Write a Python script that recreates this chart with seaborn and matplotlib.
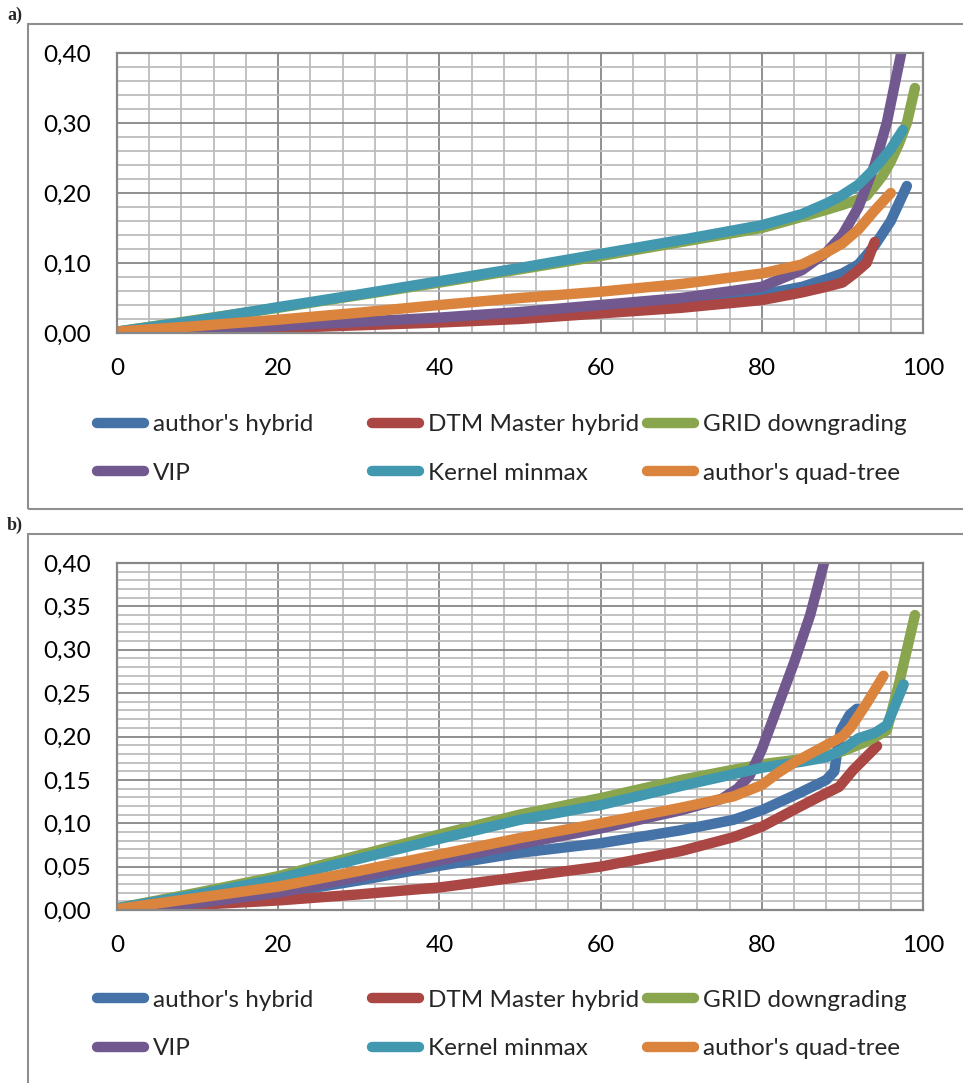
import numpy as np
import pandas as pd
import matplotlib
matplotlib.use("Agg")
import matplotlib.pyplot as plt
import seaborn as sns
from matplotlib.lines import Line2D
from matplotlib.patches import Rectangle
from matplotlib.ticker import FuncFormatter, MultipleLocator

# ---------------- data ----------------
series_names = ["author's hybrid", "DTM Master hybrid", "GRID downgrading",
                "VIP", "Kernel minmax", "author's quad-tree"]
colors = ["#4572A7", "#AA4643", "#89A54E", "#71588F", "#4198AF", "#DB843D"]

# panel a
a_hybrid_x = [0, 20, 40, 60, 70, 80, 85, 88, 90, 92, 94, 96, 98]
a_hybrid_y = [0.0, 0.008, 0.018, 0.030, 0.040, 0.055, 0.066, 0.077, 0.085, 0.098, 0.125, 0.160, 0.210]
a_dtm_x = [0, 20, 40, 50, 60, 70, 80, 85, 88, 90, 91.5, 93, 94]
a_dtm_y = [0.0, 0.007, 0.015, 0.020, 0.028, 0.036, 0.047, 0.058, 0.066, 0.072, 0.085, 0.100, 0.130]
a_grid_x = [0, 20, 40, 60, 80, 85, 88, 90, 92, 93, 94, 95, 96, 97, 98, 99]
a_grid_y = [0.002, 0.036, 0.072, 0.110, 0.150, 0.166, 0.176, 0.183, 0.191, 0.196, 0.210, 0.225, 0.245, 0.270, 0.300, 0.350]
a_vip_x = [0, 20, 40, 50, 60, 70, 80, 85, 88, 90, 92, 94, 95.5, 97.3, 98]
a_vip_y = [0.0, 0.010, 0.022, 0.030, 0.040, 0.050, 0.066, 0.090, 0.115, 0.140, 0.180, 0.240, 0.300, 0.400, 0.450]
a_kernel_x = [0, 10, 20, 30, 40, 50, 60, 70, 80, 85, 88, 90, 92, 94, 96, 97.5]
a_kernel_y = [0.002, 0.018, 0.037, 0.055, 0.074, 0.093, 0.113, 0.133, 0.154, 0.170, 0.185, 0.197, 0.212, 0.235, 0.263, 0.290]
a_quad_x = [0, 10, 20, 30, 40, 50, 60, 70, 80, 85, 88, 90, 92, 94, 96]
a_quad_y = [0.002, 0.010, 0.019, 0.029, 0.040, 0.050, 0.059, 0.070, 0.085, 0.098, 0.115, 0.128, 0.148, 0.175, 0.200]

# panel b
b_hybrid_x = [0, 10, 20, 30, 40, 50, 60, 70, 76.5, 80, 84.7, 88, 89, 89.4, 89.8, 90.9, 91.8]
b_hybrid_y = [0.0, 0.008, 0.019, 0.034, 0.051, 0.066, 0.077, 0.092, 0.104, 0.115, 0.135, 0.150, 0.160, 0.185, 0.207, 0.225, 0.232]
b_dtm_x = [0, 10, 20, 30, 40, 50, 60, 70, 76.5, 80, 84.7, 87, 89.6, 91.3, 94.3]
b_dtm_y = [0.0, 0.006, 0.011, 0.018, 0.026, 0.038, 0.050, 0.068, 0.084, 0.096, 0.119, 0.130, 0.142, 0.161, 0.189]
b_grid_x = [0, 10, 20, 30, 40, 50, 60, 70, 80, 85, 88, 90, 93, 95.5, 97, 98, 99]
b_grid_y = [0.002, 0.020, 0.039, 0.063, 0.087, 0.110, 0.129, 0.150, 0.168, 0.174, 0.178, 0.183, 0.194, 0.207, 0.260, 0.300, 0.340]
b_vip_x = [0, 10, 20, 30, 40, 50, 60, 70, 75, 77, 78.5, 80, 82, 84, 86, 88]
b_vip_y = [0.0, 0.008, 0.020, 0.038, 0.057, 0.076, 0.094, 0.115, 0.128, 0.140, 0.155, 0.185, 0.235, 0.285, 0.340, 0.410]
b_kernel_x = [0, 10, 20, 30, 40, 50, 60, 70, 80, 85, 88, 90, 92, 94, 95.5, 96.5, 97.6]
b_kernel_y = [0.002, 0.018, 0.036, 0.059, 0.082, 0.104, 0.121, 0.143, 0.164, 0.171, 0.176, 0.185, 0.198, 0.204, 0.213, 0.235, 0.260]
b_quad_x = [0, 10, 20, 30, 40, 50, 60, 70, 76.5, 80, 82, 84, 86, 88, 90, 91, 93, 95.1]
b_quad_y = [0.001, 0.014, 0.027, 0.045, 0.064, 0.083, 0.100, 0.118, 0.131, 0.144, 0.158, 0.170, 0.180, 0.190, 0.200, 0.210, 0.238, 0.270]

x_ticks = [0, 20, 40, 60, 80, 100]
a_y_ticks = [0.0, 0.1, 0.2, 0.3, 0.4]
b_y_ticks = [0.0, 0.05, 0.10, 0.15, 0.20, 0.25, 0.30, 0.35, 0.40]


def to_long(xs, ys):
    frames = []
    for name, x, y in zip(series_names, xs, ys):
        frames.append(pd.DataFrame({"x": x, "y": y, "series": name}))
    return pd.concat(frames, ignore_index=True)


df_a = to_long([a_hybrid_x, a_dtm_x, a_grid_x, a_vip_x, a_kernel_x, a_quad_x],
               [a_hybrid_y, a_dtm_y, a_grid_y, a_vip_y, a_kernel_y, a_quad_y])
df_b = to_long([b_hybrid_x, b_dtm_x, b_grid_x, b_vip_x, b_kernel_x, b_quad_x],
               [b_hybrid_y, b_dtm_y, b_grid_y, b_vip_y, b_kernel_y, b_quad_y])

# ---------------- styling ----------------
sns.set_theme(style="white")
plt.rcParams["font.family"] = ["Lato", "DejaVu Sans"]

W, H = 963, 1083
fig = plt.figure(figsize=(W / 100, H / 100), dpi=100)
palette = dict(zip(series_names, colors))

FS = 17.5
MAJOR = "#878787"
MINOR = "#bdbdbd"
LW = 7.5


def fx(px):
    return px / W


def fy(py):
    return 1 - py / H


def make_panel(df, top_px, bot_px, yticks, ymin_step, label, label_py, frame_top, legend_rows):
    ax = fig.add_axes([fx(117), fy(bot_px), fx(923) - fx(117), fy(top_px) - fy(bot_px)])
    sns.lineplot(data=df, x="x", y="y", hue="series", palette=palette, hue_order=series_names,
                 estimator=None, sort=False, legend=False, ax=ax, linewidth=LW,
                 solid_capstyle="round", solid_joinstyle="round")
    ax.set_xlim(0, 100)
    ax.set_ylim(0, 0.40)
    ax.set_xticks(x_ticks)
    ax.set_yticks(yticks)
    ax.xaxis.set_minor_locator(MultipleLocator(4))
    ax.yaxis.set_minor_locator(MultipleLocator(ymin_step))
    ax.grid(which="minor", color=MINOR, linewidth=1.3, zorder=0)
    ax.grid(which="major", color=MAJOR, linewidth=1.3, zorder=0)
    ax.set_axisbelow(True)
    ax.yaxis.set_major_formatter(FuncFormatter(lambda v, p: f"{v:.2f}".replace(".", ",")))
    ax.xaxis.set_major_formatter(FuncFormatter(lambda v, p: f"{v:.0f}"))
    ax.tick_params(axis="both", which="both", length=0, labelsize=FS, colors="black")
    ax.tick_params(axis="y", pad=19)
    ax.tick_params(axis="x", pad=18)
    ax.set_xlabel("")
    ax.set_ylabel("")
    for s in ax.spines.values():
        s.set_visible(True)
        s.set_color(MAJOR)
        s.set_linewidth(1.6)

    # outer chart frame
    fig.add_artist(Rectangle((fx(28), fy(frame_top[1])), 1.2, fy(frame_top[0]) - fy(frame_top[1]),
                             transform=fig.transFigure, fill=False, edgecolor="#8f8f8f",
                             linewidth=1.5, clip_on=False))
    fig.text(fx(7), fy(label_py), label, fontsize=13, fontweight="bold",
             family=["Liberation Serif", "DejaVu Serif"], va="center", ha="left")

    # legend: three columns of two entries
    cols = [[0, 3], [1, 4], [2, 5]]
    col_x = [97, 372, 647]
    r1, r2 = legend_rows
    for ci, idxs in enumerate(cols):
        handles = [Line2D([0], [0], color=colors[i], linewidth=LW, solid_capstyle="round")
                   for i in idxs]
        labels = [series_names[i] for i in idxs]
        leg = ax.legend(handles, labels, loc="center left",
                        bbox_to_anchor=(fx(col_x[ci]), fy((r1 + r2) / 2)),
                        bbox_transform=fig.transFigure, frameon=False, fontsize=FS,
                        handlelength=1.95, handletextpad=0.35, borderpad=0,
                        borderaxespad=0, labelspacing=1.12)
        ax.add_artist(leg)
    ax.legend_ = None
    return ax


make_panel(df_a, 53, 333, a_y_ticks, 0.02, "a)", 15, (24, 509), (425, 473))
make_panel(df_b, 563, 910, b_y_ticks, 0.01, "b)", 525, (534, 1200), (1000, 1049))

fig.savefig("out.png", dpi=100, facecolor="white")
